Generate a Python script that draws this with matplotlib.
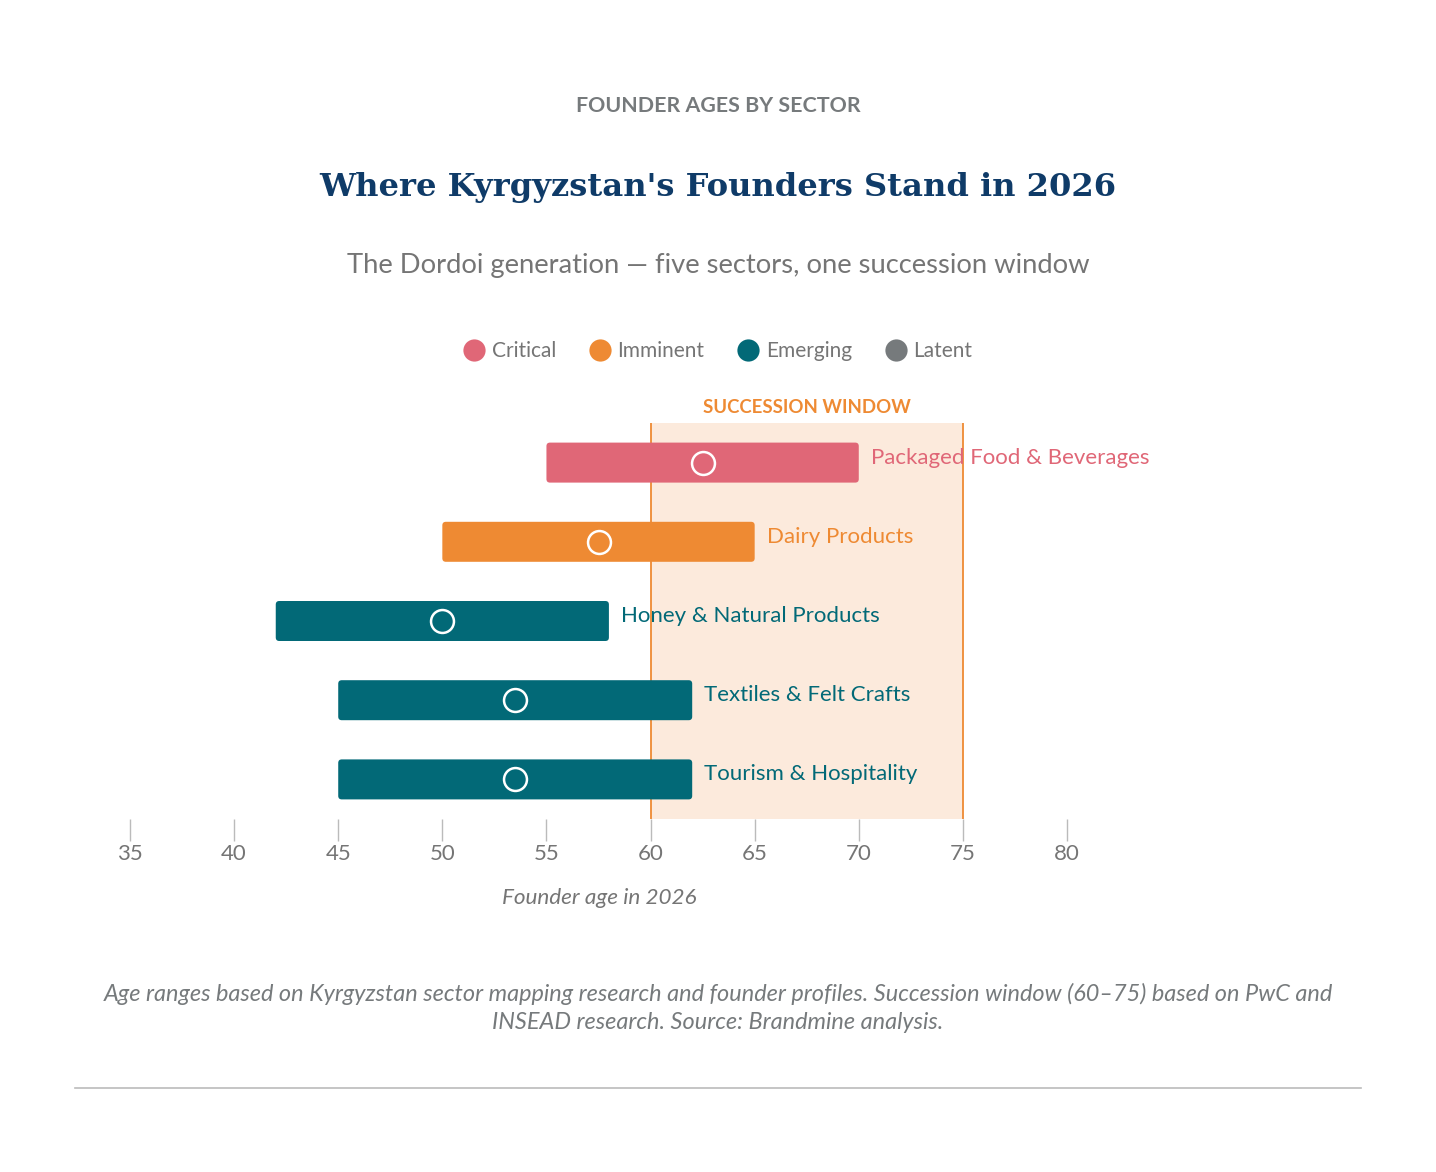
import numpy as np
import matplotlib
matplotlib.use('Agg')
import matplotlib.pyplot as plt
from matplotlib.patches import FancyBboxPatch
from matplotlib.lines import Line2D

# data
sectors = ['Packaged Food & Beverages', 'Dairy Products', 'Honey & Natural Products',
           'Textiles & Felt Crafts', 'Tourism & Hospitality']
age_low = [55, 50, 42, 45, 45]
age_high = [70, 65, 58, 62, 62]
age_mid = [62.5, 57.5, 50, 53.5, 53.5]
status = ['Critical', 'Imminent', 'Emerging', 'Emerging', 'Emerging']
status_names = ['Critical', 'Imminent', 'Emerging', 'Latent']
status_colors = {'Critical': '#E06777', 'Imminent': '#EE8A33',
                 'Emerging': '#026977', 'Latent': '#767A7C'}
window = (60, 75)
xticks = [35, 40, 45, 50, 55, 60, 65, 70, 75, 80]

plt.rcParams['font.family'] = ['Lato', 'DejaVu Sans']
W, H = 1436, 1172
fig = plt.figure(figsize=(W / 100, H / 100), dpi=100)

# axes: x 35 at px 130, 80 at px 1067; rows from px 423 to 819
ax = fig.add_axes([130 / W, 1 - 819 / H, (1067 - 130) / W, (819 - 423) / H])
ax.set_xlim(35, 80)
ax.set_ylim(len(sectors) - 0.5, -0.5)

# succession window
ax.axvspan(window[0], window[1], color='#FCEADC', zorder=0, lw=0)
for v in window:
    ax.axvline(v, color='#EE8A33', lw=1.3, zorder=1)
ax.text(np.mean(window), -0.5 - 15 / 79.2, 'SUCCESSION WINDOW', ha='center', va='center',
        color='#EE8A33', fontsize=13.4, fontweight='bold', clip_on=False)

px_x = (1067 - 130) / 45.0
px_y = (819 - 423) / 5.0
bh = 40 / px_y
for i, s in enumerate(sectors):
    c = status_colors[status[i]]
    box = FancyBboxPatch((age_low[i], i - bh / 2), age_high[i] - age_low[i], bh,
                         boxstyle='round,pad=0,rounding_size=0.17',
                         mutation_aspect=px_x / px_y, fc=c, ec='none', zorder=2)
    ax.add_patch(box)
    ax.plot(age_mid[i], i, 'o', ms=16.5, mfc='none', mec='white', mew=1.8, zorder=3)
    ax.text(age_high[i] + 12 / px_x, i - 5 / px_y, s, color=c, fontsize=16,
            va='center', ha='left', zorder=4)

for sp in ax.spines.values():
    sp.set_visible(False)
ax.set_yticks([])
ax.set_xticks(xticks)
ax.tick_params(axis='x', length=16, width=1, color='#BBBBBB', labelcolor='#757575',
               labelsize=16, pad=2)
ax.set_xlabel('Founder age in 2026', fontsize=16.2, style='italic', color='#757575')
ax.xaxis.set_label_coords((599 - 130) / (1067 - 130), -(888 - 819) / (819 - 423))

# legend
handles = [Line2D([], [], marker='o', ls='', ms=16, mfc=status_colors[n], mec='none', label=n)
           for n in status_names]
fig.legend(handles=handles, loc='center', bbox_to_anchor=(718 / W, 1 - 351 / H), ncol=4,
           frameon=False, fontsize=15, labelcolor='#757575', handletextpad=0.35,
           columnspacing=1.6, handlelength=1.0)

# titles
fig.text(718 / W, 1 - 106 / H, 'FOUNDER AGES BY SECTOR', ha='center', va='center',
         fontsize=15.4, fontweight='bold', color='#767A7C')
fig.text(718 / W, 1 - 188 / H, "Where Kyrgyzstan's Founders Stand in 2026", ha='center',
         va='center', fontsize=23.1, fontweight='bold', color='#0F3B68',
         family='DejaVu Serif')
fig.text(718 / W, 1 - 265 / H, 'The Dordoi generation \u2014 five sectors, one succession window',
         ha='center', va='center', fontsize=19.7, color='#757575')
fig.text(718 / W, 1 - 1008 / H,
         'Age ranges based on Kyrgyzstan sector mapping research and founder profiles. '
         'Succession window (60\u201375) based on PwC and\nINSEAD research. Source: Brandmine analysis.',
         ha='center', va='center', fontsize=16.9, style='italic', color='#767A7C',
         linespacing=1.45)
fig.add_artist(Line2D([75 / W, 1361 / W], [1 - 1088 / H, 1 - 1088 / H], color='#BBBBBB', lw=1.2))

fig.savefig('out.png', dpi=100, facecolor='white')
